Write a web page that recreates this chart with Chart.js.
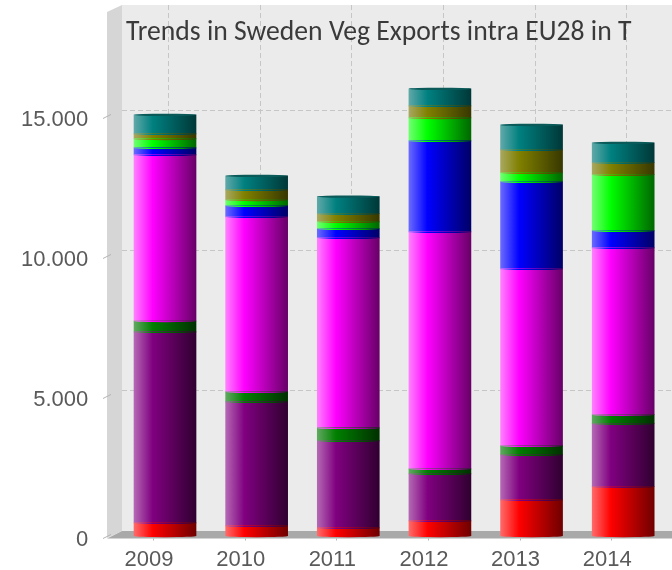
<!DOCTYPE html>
<html>
<head>
<meta charset="utf-8">
<style>
  html, body { margin: 0; padding: 0; background: #fff; }
  canvas { display: block; }
</style>
<script src="https://cdn.jsdelivr.net/npm/chart.js@4"></script>
</head>
<body>
<canvas id="chart" width="672" height="570"></canvas>
<script>
const chartTitle = "Trends in Sweden Veg Exports intra EU28 in T";
const years = ["2009", "2010", "2011", "2012", "2013", "2014"];
const yTickValues = [0, 5000, 10000, 15000];

// values in tonnes, bottom to top of the stack
const seriesA = [470, 360, 290, 540, 1290, 1760];
const seriesB = [6820, 4430, 3110, 1680, 1610, 2250];
const seriesC = [390, 360, 460, 180, 320, 320];
const seriesD = [5930, 6250, 6790, 8460, 6320, 5960];
const seriesE = [250, 390, 320, 3250, 3110, 610];
const seriesF = [320, 210, 250, 820, 320, 2000];
const seriesG = [180, 360, 290, 430, 820, 430];
const seriesH = [680, 500, 610, 610, 890, 710];

const allSeries = [seriesA, seriesB, seriesC, seriesD, seriesE, seriesF, seriesG, seriesH];
// light edge, pure colour, dark edge of each cylinder
const shades = [
  ["#ff6a6a", "#ff0000", "#700000"],
  ["#b468b4", "#800080", "#300030"],
  ["#60a860", "#008000", "#003000"],
  ["#ff80ff", "#ff00ff", "#680068"],
  ["#6a6aff", "#0000ff", "#000068"],
  ["#70ff70", "#00ff00", "#006800"],
  ["#a8a860", "#808000", "#383800"],
  ["#60a8a8", "#008080", "#003838"]
];

const barWidth = 62;
// the bars stand a little in front of the axis line
const axisDrop = 1.5;

function barGradient(ctx) {
  const chart = ctx.chart;
  if (!chart.chartArea || ctx.dataIndex === undefined) return shades[ctx.datasetIndex][1];
  const c = chart.scales.x.getPixelForValue(ctx.dataIndex);
  const g = chart.ctx.createLinearGradient(c - barWidth / 2, 0, c + barWidth / 2, 0);
  const s = shades[ctx.datasetIndex];
  g.addColorStop(0, s[0]);
  g.addColorStop(0.3, s[1]);
  g.addColorStop(1, s[2]);
  return g;
}

// fake 3D room behind the bars
const roomPlugin = {
  id: "room",
  beforeDatasetsDraw(chart) {
    const c = chart.ctx;
    const yS = chart.scales.y;
    const xS = chart.scales.x;
    const y0 = yS.getPixelForValue(0) + axisDrop;
    c.save();
    // side wall
    c.fillStyle = "#d6d6d6";
    c.beginPath();
    c.moveTo(107, 12); c.lineTo(122, 5); c.lineTo(122, y0 - 6.5); c.lineTo(107, y0 + 0.5);
    c.closePath(); c.fill();
    // back wall
    c.fillStyle = "#ebebeb";
    c.fillRect(122, 5, chart.width - 122, y0 - 6.5 - 5);
    // floor
    c.fillStyle = "#a9a9a9";
    c.beginPath();
    c.moveTo(107, y0 + 1); c.lineTo(122, y0 - 6.5); c.lineTo(chart.width, y0 - 6.5); c.lineTo(chart.width, y0 + 1);
    c.closePath(); c.fill();
    // grid
    c.strokeStyle = "#c6c6c6";
    c.lineWidth = 1;
    c.setLineDash([5, 3]);
    yTickValues.forEach((v) => {
      if (v === 0) return;
      const y = Math.round(yS.getPixelForValue(v) + axisDrop - 7) + 0.5;
      c.beginPath(); c.moveTo(122, y); c.lineTo(chart.width, y); c.stroke();
    });
    years.forEach((_, i) => {
      const x = Math.round(xS.getPixelForValue(i) + 3) + 0.5;
      c.beginPath(); c.moveTo(x, 5); c.lineTo(x, y0 - 6.5); c.stroke();
    });
    // little ticks outside the room
    c.setLineDash([]);
    c.strokeStyle = "#b4b4b4";
    yTickValues.forEach((v) => {
      const y = yS.getPixelForValue(v) + axisDrop;
      c.beginPath(); c.moveTo(103, y + 1); c.lineTo(111, y - 3); c.stroke();
    });
    years.forEach((_, i) => {
      const x = Math.round(xS.getPixelForValue(i) - 12) + 0.5;
      c.beginPath(); c.moveTo(x, y0 + 1); c.lineTo(x, y0 + 3); c.stroke();
    });
    c.restore();
  },
  afterDatasetsDraw(chart) {
    const c = chart.ctx;
    const last = allSeries.length - 1;
    c.save();
    allSeries.forEach((_, d) => {
      chart.getDatasetMeta(d).data.forEach((bar) => {
        // rounded lower edge of each segment
        c.fillStyle = bar.options.backgroundColor;
        c.beginPath();
        c.ellipse(bar.x, bar.base, barWidth / 2, 1.2, 0, 0, Math.PI);
        c.fill();
        if (d === last) {
          c.fillStyle = "#0a5a5a";
          c.beginPath();
          c.ellipse(bar.x, bar.y, barWidth / 2, 1.2, 0, 0, Math.PI * 2);
          c.fill();
        }
      });
    });
    c.fillStyle = "#3a3a3a";
    c.font = "27.66px Carlito, 'Open Sans', 'Noto Sans', sans-serif";
    c.textBaseline = "middle";
    c.fillText(chartTitle, 126, 33);
    c.restore();
  }
};

new Chart(document.getElementById("chart"), {
  type: "bar",
  data: {
    labels: years,
    datasets: allSeries.map((values) => ({
      data: values,
      backgroundColor: barGradient,
      borderWidth: 0,
      barThickness: barWidth
    }))
  },
  plugins: [roomPlugin],
  options: {
    responsive: false,
    animation: false,
    layout: { padding: { top: 12, right: 3, left: 0, bottom: 0 } },
    plugins: { legend: { display: false }, tooltip: { enabled: false } },
    scales: {
      x: {
        stacked: true,
        grid: { display: false },
        border: { display: false },
        afterFit(scale) { scale.height = 34; },
        ticks: {
          color: "#5a5a5a",
          font: { family: "'Liberation Sans'", size: 22 },
          labelOffset: -16,
          padding: 3,
          maxRotation: 0
        }
      },
      y: {
        stacked: true,
        min: 0,
        max: 18714,
        grid: { display: false },
        border: { display: false },
        afterFit(scale) {
          scale.width = 119.2;
          scale.paddingTop = 0;
          scale.paddingBottom = 0;
        },
        afterBuildTicks(scale) { scale.ticks = yTickValues.map((v) => ({ value: v })); },
        ticks: {
          color: "#5a5a5a",
          font: { family: "'Liberation Sans'", size: 22 },
          padding: 23,
          labelOffset: 3.5,
          callback: (v) => String(v).replace(/\B(?=(\d{3})+$)/g, ".")
        }
      }
    }
  }
});
</script>
</body>
</html>
